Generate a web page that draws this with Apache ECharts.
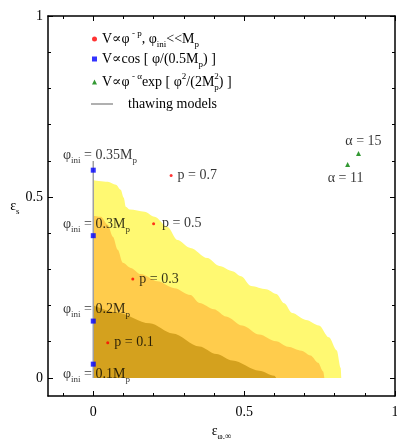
<!DOCTYPE html>
<html><head><meta charset="utf-8">
<script src="https://cdn.jsdelivr.net/npm/echarts@6/dist/echarts.min.js"></script>
<style>html,body{margin:0;padding:0;background:#fff}#c{width:397px;height:439px}</style>
</head><body><div id="c"></div>
<script>
// ---- data ----
const outerX = [0, 0.048, 0.075, 0.091, 0.101, 0.108, 0.121, 0.170, 0.203, 0.246, 0.279, 0.322, 0.378, 0.418, 0.461, 0.490, 0.523, 0.573, 0.607, 0.633, 0.659, 0.705, 0.748, 0.781, 0.807, 0.820, 0.822];
const outerY = [0.546, 0.542, 0.534, 0.520, 0.498, 0.473, 0.465, 0.459, 0.445, 0.417, 0.381, 0.359, 0.331, 0.309, 0.295, 0.281, 0.254, 0.245, 0.232, 0.206, 0.179, 0.160, 0.145, 0.112, 0.076, 0.028, 0];
const midX = [0, 0.025, 0.048, 0.065, 0.081, 0.098, 0.124, 0.157, 0.213, 0.269, 0.322, 0.352, 0.400, 0.440, 0.494, 0.550, 0.606, 0.645, 0.690, 0.720, 0.745, 0.762, 0.766];
const midY = [0.448, 0.445, 0.423, 0.390, 0.354, 0.318, 0.304, 0.287, 0.267, 0.248, 0.229, 0.207, 0.190, 0.170, 0.145, 0.120, 0.101, 0.086, 0.075, 0.062, 0.042, 0.018, 0];
const darkX = [0, 0.078, 0.187, 0.263, 0.352, 0.408, 0.461, 0.550, 0.600, 0.606];
const darkY = [0.201, 0.181, 0.151, 0.123, 0.087, 0.066, 0.048, 0.020, 0.006, 0];

const powX = [0.048, 0.131, 0.200, 0.258];
const powY = [0.097, 0.273, 0.426, 0.559];
const powP = ['0.1', '0.3', '0.5', '0.7'];

const cosX = [0, 0, 0, 0];
const cosY = [0.038, 0.157, 0.393, 0.574];
const cosPhiIni = ['0.1', '0.2', '0.3', '0.35'];

const expX = [0.843, 0.879];
const expY = [0.590, 0.620];
const expAlpha = ['11', '15'];

const thawX = [0, 0];
const thawY = [0, 0.599];

const xTicksMajor = [0, 0.5, 1];
const xTicksMinor = [-0.1, 0.1, 0.2, 0.3, 0.4, 0.6, 0.7, 0.8, 0.9];
const yTicksMajor = [0, 0.5, 1];
const yTicksMinor = [0.1, 0.2, 0.3, 0.4, 0.6, 0.7, 0.8, 0.9];

// ---- styling ----
const FONT = "'Liberation Serif','DejaVu Serif',serif";
const rich = {
  t: { fontFamily: FONT, fontSize: 14, color: '#000', lineHeight: 20 },
  sub: { fontFamily: FONT, fontSize: 9, color: '#000', verticalAlign: 'bottom', lineHeight: 11 },
  sup: { fontFamily: FONT, fontSize: 9, color: '#000', verticalAlign: 'top', lineHeight: 11 },
  supz: { fontFamily: FONT, fontSize: 9, color: '#000', verticalAlign: 'top', lineHeight: 11, width: 0.01 },
  tp: { fontFamily: FONT, fontSize: 14, color: '#000', lineHeight: 20, padding: [0, 0, 0, 10] }
};
const zip = (a, b) => a.map((v, i) => [v, b[i]]);

function xAx(position, ticks, len, showLine, showLabel, extra) {
  return Object.assign({
    type: 'value', min: -0.15, max: 1, position: position, gridIndex: 0,
    axisLine: { show: showLine, onZero: false, lineStyle: { color: '#000', width: 1.5 } },
    axisTick: { show: true, inside: true, length: len, customValues: ticks, lineStyle: { color: '#000', width: 1 } },
    axisLabel: { show: showLabel, customValues: ticks, color: '#000', fontFamily: FONT, fontSize: 14, margin: 9 },
    splitLine: { show: false }
  }, extra || {});
}
function yAx(position, ticks, len, showLine, showLabel, extra) {
  return Object.assign({
    type: 'value', min: -0.05, max: 1, position: position, gridIndex: 0,
    axisLine: { show: showLine, onZero: false, lineStyle: { color: '#000', width: 1.5 } },
    axisTick: { show: true, inside: true, length: len, customValues: ticks, lineStyle: { color: '#000', width: 1 } },
    axisLabel: { show: showLabel, customValues: ticks, color: '#000', fontFamily: FONT, fontSize: 14, margin: 5 },
    splitLine: { show: false }
  }, extra || {});
}

const cosOffsets = [[-30.3, 9.7], [-30.3, -11.8], [-30.3, -11.5], [-30.3, -14.7]];
const expLabelCfg = [
  { position: 'bottom', distance: 1, offset: [-2, 0] },
  { position: 'top', distance: 0, offset: [5, 0] }
];

const legendText = {
  pow: '{t|V∝φ}{sup| - p}{t|, φ}{sub|ini}{t|<<M}{sub|p}',
  cos: '{t|V∝cos [ φ/(0.5M}{sub|p}{t|) ]}',
  exp: '{t|V∝φ}{sup| - α}{t|exp [ φ}{sup|2}{t|/(2M}{supz|2}{sub|p}{t|) ]}',
  thaw: '{tp|thawing models}'
};

const option = {
  animation: false,
  backgroundColor: '#fff',
  grid: { left: 48, right: 2, top: 16, bottom: 43, outerBoundsMode: 'none', containLabel: false },
  legend: [
    {
      data: [{ name: 'pow', icon: 'circle' }, { name: 'cos', icon: 'rect' }, { name: 'exp', icon: 'triangle' }],
      orient: 'vertical', left: 87, top: 24, itemWidth: 5, itemHeight: 5, itemGap: 3,
      selectedMode: false, formatter: n => legendText[n],
      textStyle: { rich: rich, fontFamily: FONT, fontSize: 14 }
    },
    {
      data: [{ name: 'thaw', icon: 'rect' }], orient: 'vertical', left: 86, top: 92, itemWidth: 22, itemHeight: 2,
      selectedMode: false, formatter: n => legendText[n],
      textStyle: { rich: rich, fontFamily: FONT, fontSize: 14 }
    }
  ],
  xAxis: [
    xAx('bottom', xTicksMajor, 5, true, true, {
      name: '{t|ε}{sub|φ,∞}', nameLocation: 'middle', nameGap: 23,
      nameTextStyle: { rich: rich }
    }),
    xAx('bottom', xTicksMinor, 3, false, false),
    xAx('top', xTicksMajor, 5, true, false),
    xAx('top', xTicksMinor, 3, false, false)
  ],
  yAxis: [
    yAx('left', yTicksMajor, 5, true, true, {
      name: '{t|ε}{sub|s}', nameLocation: 'middle', nameGap: 28, nameRotate: 0,
      nameTextStyle: { rich: rich }
    }),
    yAx('left', yTicksMinor, 3, false, false),
    yAx('right', yTicksMajor, 5, true, false),
    yAx('right', yTicksMinor, 3, false, false)
  ],
  series: [
    { name: 'outer', type: 'line', data: zip(outerX, outerY), smooth: 0.3, smoothMonotone: 'x', symbol: 'none',
      lineStyle: { width: 0 }, areaStyle: { color: '#FFF972', opacity: 1 }, z: 1 },
    { name: 'mid', type: 'line', data: zip(midX, midY), smooth: 0.3, smoothMonotone: 'x', symbol: 'none',
      lineStyle: { width: 0 }, areaStyle: { color: '#FFCC4C', opacity: 1 }, z: 1 },
    { name: 'dark', type: 'line', data: zip(darkX, darkY), smooth: 0.3, smoothMonotone: 'x', symbol: 'none',
      lineStyle: { width: 0 }, areaStyle: { color: '#D4A11E', opacity: 1 }, z: 1 },
    { name: 'thaw', type: 'line', data: zip(thawX, thawY), symbol: 'none',
      lineStyle: { color: '#a0a0a0', width: 1.5 }, itemStyle: { color: '#b0b0b0' }, z: 3 },
    { name: 'pow', type: 'scatter', symbol: 'circle', symbolSize: 3, itemStyle: { color: '#ff0000' }, z: 4,
      data: powX.map((x, i) => ({ value: [x, powY[i]], name: powP[i],
        label: { distance: i === 2 ? 7 : 5 } })),
      label: { show: true, position: 'right', formatter: p => '{t|p = ' + p.name + '}', rich: rich } },
    { name: 'cos', type: 'scatter', symbol: 'rect', symbolSize: 5, itemStyle: { color: '#0000ff' }, z: 4,
      data: cosX.map((x, i) => ({ value: [x, cosY[i]], name: cosPhiIni[i],
        label: { offset: cosOffsets[i] } })),
      label: { show: true, position: 'inside', align: 'left',
        formatter: p => '{t|φ}{sub|ini}{t| = ' + p.name + 'M}{sub|p}', rich: rich } },
    { name: 'exp', type: 'scatter', symbol: 'triangle', symbolSize: 5, itemStyle: { color: '#008000' }, z: 4,
      data: expX.map((x, i) => ({ value: [x, expY[i]], name: expAlpha[i], label: expLabelCfg[i] })),
      label: { show: true, formatter: p => '{t|α = ' + p.name + '}', rich: rich } }
  ]
};
const chart = echarts.init(document.getElementById('c'), null, { renderer: 'canvas' });
chart.setOption(option);
</script>
</body></html>
